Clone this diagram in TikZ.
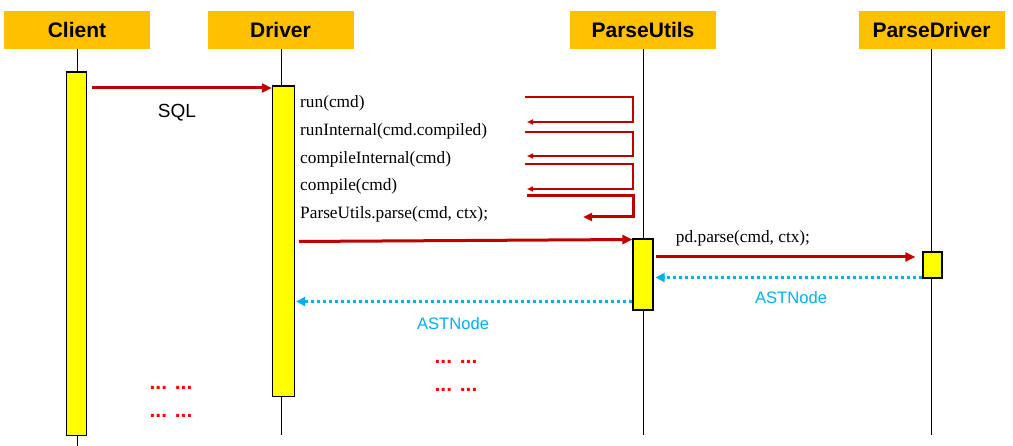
\documentclass[tikz,border=0pt]{standalone}
\usepackage{fontspec}
\setmainfont{Liberation Serif}
\setsansfont{Liberation Sans}
\usetikzlibrary{arrows.meta}
\definecolor{hdr}{HTML}{FFC000}
\definecolor{darkred}{HTML}{C00000}
\definecolor{retblue}{HTML}{00B0F0}
\definecolor{actyellow}{HTML}{FFFF00}
\tikzset{
  header/.style={fill=hdr, minimum width=146pt, minimum height=38pt, inner sep=0pt,
    font=\sffamily\bfseries\fontsize{21}{23}\selectfont},
  actbox/.style={draw=black, line width=1.2pt, fill=actyellow, inner sep=0pt},
  lifeline/.style={draw=black, line width=0.9pt},
  msg/.style={draw=darkred, line width=3pt, -{Triangle[length=10pt,width=9pt]}},
  selfmsg/.style={draw=darkred, line width=2pt, -{Triangle[length=6pt,width=5pt]}},
  selfmsgthick/.style={draw=darkred, line width=3pt, -{Triangle[length=9pt,width=8pt]}},
  retmsg/.style={draw=retblue, line width=3pt, dash pattern=on 3pt off 3pt, -{Triangle[length=9pt,width=9pt]}},
  codelabel/.style={anchor=west, inner sep=0pt, font=\fontsize{17.3}{19}\selectfont},
  retlabel/.style={text=retblue, inner sep=0pt, font=\sffamily\fontsize{16.6}{18}\selectfont},
  dotslabel/.style={text=red, anchor=base, inner sep=0pt, font=\sffamily\bfseries\fontsize{21}{23}\selectfont},
}
\begin{document}
\begin{tikzpicture}[x=1pt, y=-1pt]
\useasboundingbox (0,0) rectangle (1013,446);
% headers
\node[header] (client) at (77,30) {Client};
\node[header] (driver) at (280.5,30) {Driver};
\node[header] (putils) at (643,30) {ParseUtils};
\node[header] (pdriver) at (931.5,30) {ParseDriver};
% lifeline ends
\coordinate (clientEnd) at (77,446);
\coordinate (driverEnd) at (281.5,435);
\coordinate (putilsEnd) at (643,435);
\coordinate (pdriverEnd) at (931.5,435);
\draw[lifeline] (client.south) -- (clientEnd);
\draw[lifeline] (driver.south -| driverEnd) -- (driverEnd);
\draw[lifeline] (putils.south) -- (putilsEnd);
\draw[lifeline] (pdriver.south) -- (pdriverEnd);
% activation boxes
\node[actbox, minimum width=20pt, minimum height=363.5pt] (clientAct) at (76.5,253.75) {};
\node[actbox, minimum width=22pt, minimum height=310.5pt] (driverAct) at (283.5,241.25) {};
\node[actbox, minimum width=20pt, minimum height=71pt] (putilsAct) at (643,274.5) {};
\node[actbox, minimum width=19pt, minimum height=26pt] (pdriverAct) at (932.5,265) {};
% SQL
\coordinate (sqlY) at (0,88);
\draw[msg, shorten <=5pt] (clientAct.east |- sqlY) -- (driverAct.west |- sqlY);
\node[font=\sffamily\fontsize{19}{21}\selectfont, inner sep=0pt] (sql) at (177,113) {SQL};
% self loops
\coordinate (l1s) at (525,97);   \coordinate (l1e) at (527,122);
\coordinate (l2s) at (525,132);  \coordinate (l2e) at (527,156);
\coordinate (l3s) at (525,164.5);\coordinate (l3e) at (527,189);
\coordinate (l4s) at (527,195.5);\coordinate (l4e) at (583,217);
\coordinate (loopX) at (633,0);
\draw[selfmsg] (l1s) -- (l1s -| loopX) -- (l1e -| loopX) -- (l1e);
\draw[selfmsg] (l2s) -- (l2s -| loopX) -- (l2e -| loopX) -- (l2e);
\draw[selfmsg] (l3s) -- (l3s -| loopX) -- (l3e -| loopX) -- (l3e);
\draw[selfmsgthick] (l4s) -- (l4s -| loopX) -- (l4e -| loopX) -- (l4e);
% code labels
\node[codelabel] (t1) at (300,103) {run(cmd)};
\node[codelabel] (t2) at (300,131) {runInternal(cmd.compiled)};
\node[codelabel] (t3) at (300,159) {compileInternal(cmd)};
\node[codelabel] (t4) at (300,186) {compile(cmd)};
\node[codelabel] (t5) at (300,214) {ParseUtils.parse(cmd, ctx);};
% Driver -> ParseUtils
\coordinate (d2pStart) at (299,241.5);
\coordinate (d2pY) at (0,239.5);
\draw[msg] (d2pStart) -- (putilsAct.west |- d2pY);
% ParseUtils -> ParseDriver
\coordinate (p2dY) at (0,257);
\draw[msg, shorten <=2pt] (putilsAct.east |- p2dY) -- ([xshift=-7pt]pdriverAct.west |- p2dY);
\node[codelabel, anchor=center] (t6) at (743,238) {pd.parse(cmd, ctx);};
% returns
\coordinate (r1Y) at (0,277.5);
\draw[retmsg, shorten >=2pt] (pdriverAct.west |- r1Y) -- (putilsAct.east |- r1Y);
\node[retlabel] (ast1) at (791,298) {ASTNode};
\coordinate (r2Y) at (0,301.5);
\draw[retmsg, shorten >=1pt] (putilsAct.west |- r2Y) -- (driverAct.east |- r2Y);
\node[retlabel] (ast2) at (453,324) {ASTNode};
% ellipses
\node[dotslabel] (dl1) at (171,390) {... ...};
\node[dotslabel] (dl2) at (171,418) {... ...};
\node[dotslabel] (dr1) at (456,364) {... ...};
\node[dotslabel] (dr2) at (456,392) {... ...};
\end{tikzpicture}
\end{document}
